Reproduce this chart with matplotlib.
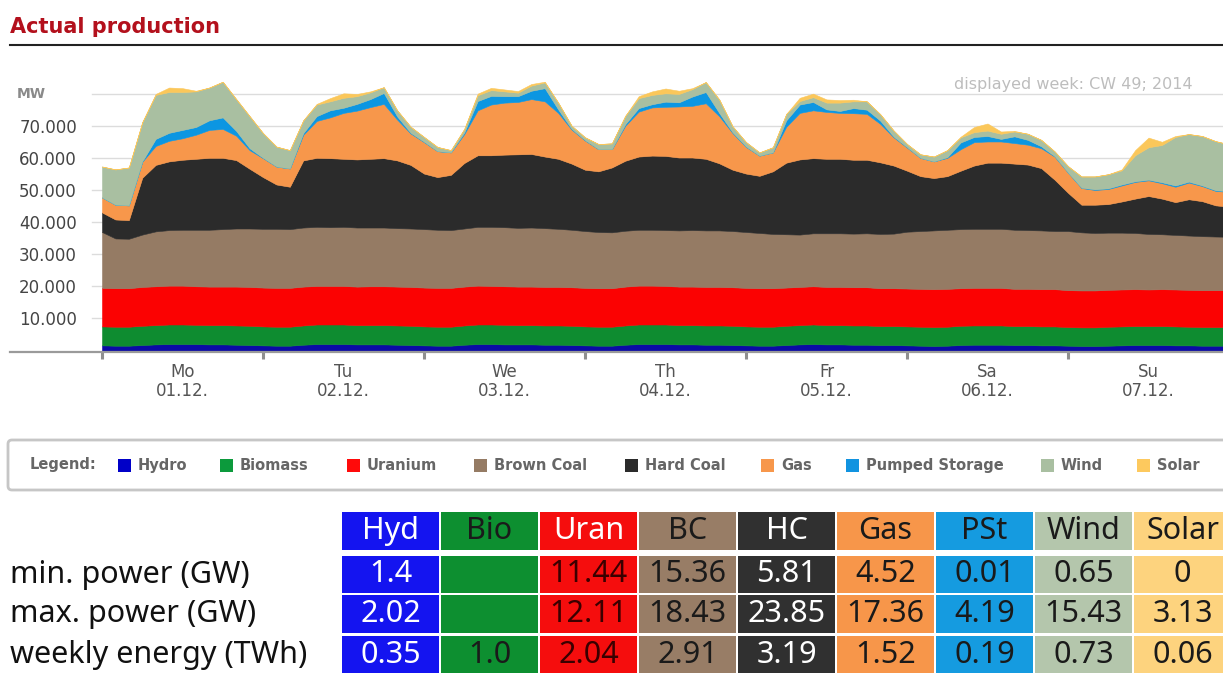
import numpy as np
import matplotlib.pyplot as plt
from matplotlib.patches import Rectangle, FancyBboxPatch

W, H = 1223, 673

# two-hourly readings (GW), Mo 01.12. 00:00 .. Su 07.12. 24:00
hours = np.arange(0, 169, 2)

hydro = [1.6, 1.5, 1.5, 1.7, 1.9, 2.0, 2.0, 2.0, 1.9, 1.9, 1.8, 1.7,
         1.6, 1.5, 1.5, 1.8, 2.0, 2.0, 2.0, 1.9, 1.9, 1.9, 1.8, 1.7,
         1.6, 1.5, 1.5, 1.8, 2.0, 2.0, 1.9, 1.9, 1.9, 1.8, 1.8, 1.7,
         1.6, 1.5, 1.5, 1.8, 2.0, 2.0, 2.0, 1.9, 1.9, 1.8, 1.8, 1.7,
         1.6, 1.5, 1.5, 1.7, 1.9, 2.0, 1.9, 1.9, 1.8, 1.8, 1.7, 1.7,
         1.6, 1.5, 1.4, 1.5, 1.7, 1.8, 1.8, 1.8, 1.7, 1.7, 1.6, 1.6,
         1.5, 1.4, 1.4, 1.5, 1.6, 1.7, 1.7, 1.7, 1.6, 1.6, 1.5, 1.5, 1.5]
biomass = [5.9, 5.9, 5.9, 6.0, 6.0, 6.1, 6.1, 6.0, 6.0, 6.0, 6.0, 6.0,
           5.9, 5.9, 5.9, 6.0, 6.1, 6.1, 6.1, 6.0, 6.0, 6.0, 6.0, 6.0,
           5.9, 5.9, 5.9, 6.0, 6.1, 6.1, 6.1, 6.0, 6.0, 6.0, 6.0, 6.0,
           5.9, 5.9, 5.9, 6.0, 6.1, 6.1, 6.1, 6.0, 6.0, 6.0, 6.0, 6.0,
           5.9, 5.9, 5.9, 6.0, 6.0, 6.1, 6.0, 6.0, 6.0, 6.0, 5.9, 5.9,
           5.9, 5.9, 5.9, 5.9, 6.0, 6.0, 6.0, 6.0, 5.9, 5.9, 5.9, 5.9,
           5.8, 5.8, 5.8, 5.9, 5.9, 5.9, 5.9, 5.9, 5.9, 5.8, 5.8, 5.8, 5.8]
uranium = [12.0, 12.0, 12.0, 12.1, 12.1, 12.1, 12.1, 12.0, 12.0, 12.0, 12.1, 12.1,
           12.1, 12.1, 12.1, 12.1, 12.0, 12.0, 12.0, 12.0, 12.1, 12.1, 12.1, 12.1,
           12.1, 12.1, 12.1, 12.1, 12.1, 12.0, 12.0, 12.0, 12.0, 12.0, 12.0, 12.0,
           12.0, 12.0, 12.0, 12.1, 12.1, 12.1, 12.0, 12.0, 12.0, 12.0, 12.0, 12.0,
           12.0, 12.0, 12.0, 11.9, 11.9, 11.9, 11.9, 11.9, 11.9, 11.9, 11.8, 11.8,
           11.8, 11.8, 11.8, 11.8, 11.7, 11.7, 11.7, 11.7, 11.6, 11.6, 11.6, 11.6,
           11.5, 11.5, 11.5, 11.5, 11.5, 11.5, 11.4, 11.5, 11.5, 11.5, 11.5, 11.5, 11.5]
brown_coal = [17.4, 15.5, 15.4, 16.3, 17.1, 17.3, 17.4, 17.6, 17.7, 17.9, 18.1, 18.2,
              18.3, 18.4, 18.3, 18.4, 18.4, 18.3, 18.4, 18.4, 18.3, 18.3, 18.2, 18.2,
              18.2, 18.1, 18.0, 18.1, 18.3, 18.4, 18.4, 18.3, 18.4, 18.3, 18.1, 17.9,
              17.7, 17.5, 17.4, 17.4, 17.4, 17.4, 17.4, 17.5, 17.6, 17.6, 17.6, 17.5,
              17.4, 17.2, 16.9, 16.6, 16.3, 16.5, 16.7, 16.7, 16.7, 16.8, 16.9, 17.0,
              17.7, 18.0, 18.3, 18.4, 18.4, 18.4, 18.4, 18.4, 18.4, 18.3, 18.3, 18.1,
              18.4, 18.1, 17.9, 17.8, 17.7, 17.5, 17.3, 17.1, 17.0, 16.9, 16.8, 16.7, 16.6]
hard_coal = [6.1, 5.9, 5.8, 17.7, 20.7, 21.4, 21.8, 22.1, 22.4, 22.2, 21.3, 18.6,
             16.1, 13.8, 13.2, 20.9, 21.5, 21.5, 21.2, 21.2, 21.4, 21.6, 21.1, 19.8,
             17.3, 16.4, 17.2, 20.4, 22.3, 22.3, 22.6, 22.9, 22.9, 22.3, 21.8, 20.6,
             19.1, 18.9, 20.2, 21.8, 22.8, 23.1, 23.1, 22.7, 22.6, 22.3, 20.9, 19.1,
             18.2, 17.8, 19.5, 22.3, 23.4, 23.4, 23.2, 23.2, 23.0, 22.9, 22.3, 21.2,
             19.0, 17.1, 16.3, 16.7, 18.2, 19.7, 20.6, 20.6, 20.6, 20.4, 19.4, 16.0,
             11.9, 8.6, 8.8, 8.9, 9.7, 10.7, 11.8, 11.1, 10.2, 11.3, 10.9, 9.7, 9.4]
gas = [4.7, 4.6, 4.6, 5.0, 5.9, 6.4, 6.7, 7.5, 8.7, 9.0, 7.6, 5.8,
       5.9, 5.6, 5.7, 8.0, 11.5, 12.7, 14.3, 15.2, 16.1, 16.9, 12.7, 9.8,
       9.8, 8.1, 7.0, 9.0, 14.0, 15.8, 16.2, 16.3, 17.1, 17.2, 14.3, 10.6,
       9.1, 6.9, 5.7, 10.9, 14.0, 15.0, 15.3, 15.9, 16.1, 17.3, 14.7, 11.4,
       8.3, 6.3, 5.9, 11.2, 14.5, 14.9, 14.6, 14.3, 14.5, 14.3, 12.0, 8.8,
       7.2, 5.7, 5.2, 5.7, 6.7, 7.3, 6.6, 6.6, 6.4, 6.2, 6.2, 7.2,
       6.3, 5.2, 4.6, 4.7, 5.0, 5.2, 4.9, 4.8, 4.8, 5.2, 4.7, 4.5, 4.6]
pumped = [0.0, 0.0, 0.0, 0.1, 2.2, 2.5, 2.6, 2.4, 3.0, 3.6, 1.5, 0.6,
          0.1, 0.0, 0.0, 0.5, 1.5, 2.2, 1.6, 2.1, 2.5, 3.4, 1.0, 0.2,
          0.1, 0.0, 0.0, 0.5, 2.9, 2.7, 2.0, 1.8, 2.6, 4.1, 1.1, 0.2,
          0.1, 0.0, 0.0, 0.5, 1.1, 1.0, 1.6, 1.3, 2.9, 3.5, 1.0, 0.2,
          0.1, 0.0, 0.0, 2.0, 2.6, 2.6, 0.8, 0.6, 1.6, 1.3, 1.0, 0.2,
          0.1, 0.0, 0.0, 0.2, 2.1, 1.6, 1.7, 0.8, 2.1, 1.5, 0.6, 0.1,
          0.0, 0.1, 0.2, 0.2, 0.3, 0.2, 0.2, 0.3, 0.4, 0.3, 0.2, 0.2, 0.2]
wind = [9.6, 11.0, 11.8, 12.2, 13.7, 12.7, 11.8, 11.1, 10.2, 11.1, 9.9, 10.0,
        7.7, 6.2, 5.7, 4.0, 3.6, 2.8, 3.1, 2.4, 2.1, 1.8, 1.9, 1.9,
        1.5, 1.3, 0.7, 1.1, 1.8, 1.8, 1.5, 1.1, 1.6, 1.8, 2.1, 1.0,
        0.9, 1.6, 1.8, 2.6, 3.1, 2.9, 2.6, 2.6, 2.3, 3.1, 4.2, 1.9,
        1.4, 1.0, 1.6, 2.0, 1.1, 1.5, 2.1, 2.6, 2.1, 2.6, 2.0, 1.9,
        1.0, 1.1, 1.5, 2.2, 1.6, 1.5, 1.7, 1.6, 1.5, 1.9, 2.0, 1.5,
        2.0, 3.5, 4.0, 4.4, 4.4, 8.1, 10.1, 11.6, 15.1, 14.8, 15.4, 15.3, 14.6]
solar = [0, 0, 0, 0, 0.3, 1.4, 1.2, 0.2, 0, 0, 0, 0,
         0, 0, 0, 0, 0.2, 1.0, 1.4, 0.7, 0.3, 0, 0, 0,
         0, 0, 0, 0, 0.5, 0.7, 0.6, 0.5, 0.5, 0.2, 0, 0,
         0, 0, 0, 0, 0.6, 1.1, 1.5, 1.0, 0.3, 0, 0, 0,
         0, 0, 0, 0, 1.0, 1.1, 1.0, 0.8, 0.5, 0, 0, 0,
         0, 0, 0, 0, 0.2, 1.6, 2.2, 0.7, 0.2, 0, 0, 0,
         0, 0, 0, 0, 0.3, 1.6, 3.0, 1.0, 0.3, 0, 0, 0, 0]

sources = ['Hydro', 'Biomass', 'Uranium', 'Brown Coal', 'Hard Coal', 'Gas',
           'Pumped Storage', 'Wind', 'Solar']
area_colors = ['#0b0ba5', '#0e8c30', '#fb0202', '#957b64', '#2b2b2b', '#f7974b',
               '#0c96e2', '#a9bfa1', '#fbc75a']
legend_colors = ['#0000c8', '#0c9a3c', '#ff0a0a', '#957b64', '#2b2b2b', '#f7974b',
                 '#1193e0', '#a9bfa1', '#fdc95e']

day_labels = ['Mo\n01.12.', 'Tu\n02.12.', 'We\n03.12.', 'Th\n04.12.',
              'Fr\n05.12.', 'Sa\n06.12.', 'Su\n07.12.']
y_ticks = [10000, 20000, 30000, 40000, 50000, 60000, 70000]

table_cols = ['Hyd', 'Bio', 'Uran', 'BC', 'HC', 'Gas', 'PSt', 'Wind', 'Solar']
table_rows = ['min. power (GW)', 'max. power (GW)', 'weekly energy (TWh)']
min_power = ['1.4', '', '11.44', '15.36', '5.81', '4.52', '0.01', '0.65', '0']
max_power = ['2.02', '', '12.11', '18.43', '23.85', '17.36', '4.19', '15.43', '3.13']
weekly_energy = ['0.35', '1.0', '2.04', '2.91', '3.19', '1.52', '0.19', '0.73', '0.06']
table_bg = ['#1414f0', '#0d8f30', '#f50d0d', '#987d66', '#303030', '#f7964a',
            '#159be0', '#b4c6ac', '#fdd37e']
head_fg = ['white', '#1a1a1a', 'white', '#1a1a1a', 'white', '#1a1a1a', '#1a1a1a',
           '#1a1a1a', '#1a1a1a']
value_fg = ['white', '#1a1a1a', '#3a0000', '#1a1a1a', 'white', '#1a1a1a', '#1a1a1a',
            '#1a1a1a', '#1a1a1a']


def draw_chart(fig):
    # chart area: x from 102 px to the right edge, zero line at 350.5 px
    ax = fig.add_axes([102 / W, 1 - 350.5 / H, (W - 102) / W, 271 / H], zorder=1)
    ax.patch.set_alpha(0)
    series = [np.array(s) * 1000 for s in
              (hydro, biomass, uranium, brown_coal, hard_coal, gas, pumped, wind, solar)]
    polys = ax.stackplot(hours, series, colors=area_colors, zorder=2)
    for p, c in zip(polys, area_colors):
        p.set_edgecolor(c)
        p.set_linewidth(0.4)
    ax.set_xlim(0, 167.1)
    ax.set_ylim(0, 84400)

    tr = ax.get_yaxis_transform()
    for v in y_ticks + [80000]:
        ax.plot([-10 / 1121, 1], [v, v], transform=tr, color='#dcdcdc', lw=1,
                zorder=0, clip_on=False)
    ax.plot([-92 / 1121, 1], [-350, -350], transform=tr, color='#9a9a9a', lw=1.6,
            zorder=3, clip_on=False)

    for s in ax.spines.values():
        s.set_visible(False)
    ax.set_yticks(y_ticks, [f'{v:,}'.replace(',', '.') for v in y_ticks])
    ax.tick_params(axis='y', length=0, pad=18, labelsize=12, labelcolor='#444444')

    ax.set_xticks(range(0, 168, 24), [''] * 7)
    ax.set_xticks(range(12, 168, 24), day_labels, minor=True)
    ax.tick_params(axis='x', which='major', length=5.5, width=2.2, color='#8f8f8f')
    ax.tick_params(axis='x', which='minor', length=0, pad=9, labelsize=12,
                   labelcolor='#555555')
    for lab in ax.get_xticklabels(minor=True):
        lab.set_linespacing(1.05)


def draw_page(lay):
    lay.text(10, 27, 'Actual production', fontsize=15, fontweight='bold',
             color='#b3101c', va='center')
    lay.plot([10, W], [45, 45], color='#222222', lw=1.5)
    lay.text(17, 94, 'MW', fontsize=10, fontweight='bold', color='#8a8a8a', va='center')
    lay.text(1193, 84, 'displayed week: CW 49; 2014', fontsize=11.5, color='#bdbdbd',
             ha='right', va='center')

    # legend strip
    lay.add_patch(FancyBboxPatch((8, 440), 1260, 50, boxstyle='round,pad=0,rounding_size=4',
                                 fc='white', ec='#c6c6c6', lw=2))
    lay.text(30, 465, 'Legend:', fontsize=10.5, fontweight='bold', color='#666666',
             va='center')
    sq_x = [118, 220, 347, 474, 625, 761, 846, 1041, 1137]
    for x, name, c in zip(sq_x, sources, legend_colors):
        lay.add_patch(Rectangle((x, 459), 13, 13, fc=c, ec='none'))
        lay.text(x + 20, 465.5, name, fontsize=10.5, fontweight='bold', color='#666666',
                 va='center')

    # summary table
    row_tops = [512, 556, 595, 636]
    row_h = [38, 37, 38, 38]
    rows = [table_cols, min_power, max_power, weekly_energy]
    for j in range(len(table_cols)):
        x = 342 + 99 * j
        for i in range(4):
            lay.add_patch(Rectangle((x, row_tops[i]), 97, row_h[i], fc=table_bg[j], ec='none'))
            lay.text(x + 48.5, row_tops[i] + row_h[i] / 2, rows[i][j], ha='center',
                     va='center', fontsize=22, family='Noto Sans',
                     color=head_fg[j] if i == 0 else value_fg[j])
    for label, top, h in zip(table_rows, row_tops[1:], row_h[1:]):
        lay.text(10, top + h / 2, label, va='center', fontsize=22, family='Noto Sans',
                 color='#111111')


if __name__ == '__main__':
    fig = plt.figure(figsize=(W / 100, H / 100), dpi=100)
    lay = fig.add_axes([0, 0, 1, 1], zorder=0)
    lay.set_xlim(0, W)
    lay.set_ylim(H, 0)
    lay.axis('off')
    draw_page(lay)
    draw_chart(fig)
    fig.savefig('out.png', dpi=100)
